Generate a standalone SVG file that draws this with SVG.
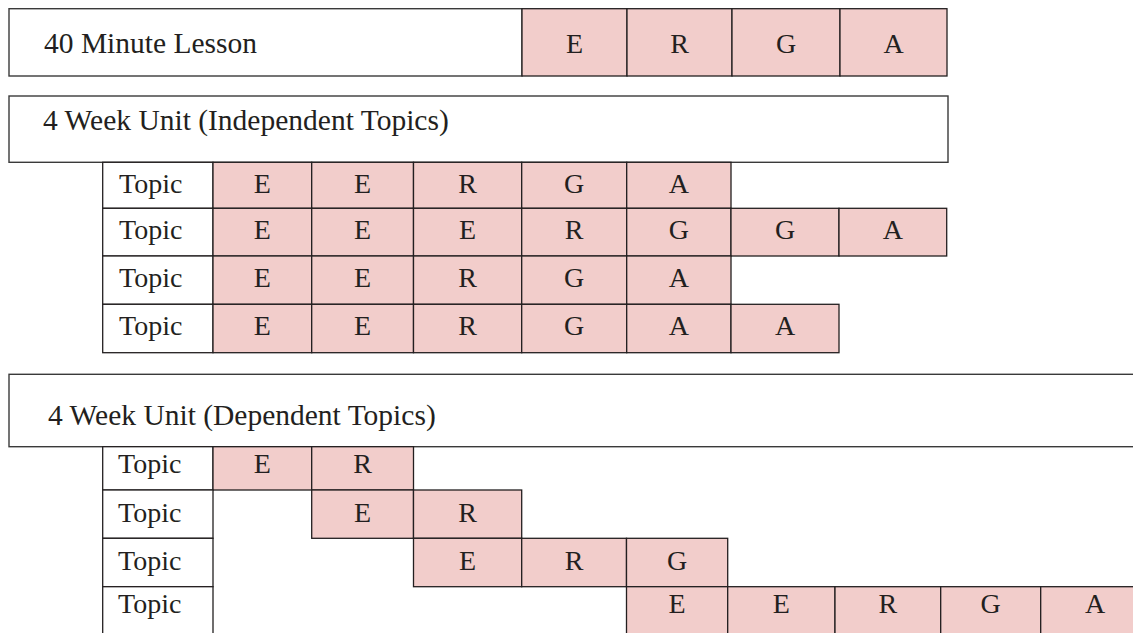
<svg xmlns="http://www.w3.org/2000/svg" width="1133" height="633" viewBox="0 0 1133 633">
<style>
.box{fill:#ffffff;stroke:#3a3a3a;stroke-width:1.4}
.t{fill:#ffffff;stroke:#231f20;stroke-width:1.3}
.p{fill:#f2cdcb;stroke:#231f20;stroke-width:1.3}
.h{font-family:"Liberation Serif","Times New Roman",serif;font-size:29.5px;fill:#231f20}
.c{font-family:"Liberation Serif","Times New Roman",serif;font-size:28px;fill:#231f20;text-anchor:middle}
.tp{font-family:"Liberation Serif","Times New Roman",serif;font-size:28px;fill:#231f20}
</style>
<rect width="1133" height="633" fill="#ffffff"/>

<g id="lesson">
<rect class="box" x="9" y="8.7" width="513" height="67.3"/>
<text class="h" x="44" y="53">40 Minute Lesson</text>
<rect class="p" x="522" y="8.7" width="105" height="67.3"/><text class="c" x="574.5" y="53">E</text>
<rect class="p" x="627" y="8.7" width="105" height="67.3"/><text class="c" x="679.5" y="53">R</text>
<rect class="p" x="732" y="8.7" width="108" height="67.3"/><text class="c" x="786" y="53">G</text>
<rect class="p" x="840" y="8.7" width="107" height="67.3"/><text class="c" x="893.5" y="53">A</text>
</g>

<g id="independent-header">
<rect class="box" x="9" y="96" width="939" height="66.3"/>
<text class="h" x="43" y="130">4 Week Unit (Independent Topics)</text>
</g>

<g id="independent-row-1">
<rect class="t" x="102.7" y="162.3" width="110.3" height="46"/><text class="tp" x="119" y="193.3">Topic</text>
<rect class="p" x="213" y="162.3" width="98.7" height="46"/><text class="c" x="262.3" y="193.3">E</text>
<rect class="p" x="311.7" y="162.3" width="101.8" height="46"/><text class="c" x="362.6" y="193.3">E</text>
<rect class="p" x="413.5" y="162.3" width="108.2" height="46"/><text class="c" x="467.6" y="193.3">R</text>
<rect class="p" x="521.7" y="162.3" width="105" height="46"/><text class="c" x="574.2" y="193.3">G</text>
<rect class="p" x="626.7" y="162.3" width="104.3" height="46"/><text class="c" x="678.8" y="193.3">A</text>
</g>

<g id="independent-row-2">
<rect class="t" x="102.7" y="208.3" width="110.3" height="47.7"/><text class="tp" x="119" y="239.3">Topic</text>
<rect class="p" x="213" y="208.3" width="98.7" height="47.7"/><text class="c" x="262.3" y="239.3">E</text>
<rect class="p" x="311.7" y="208.3" width="101.8" height="47.7"/><text class="c" x="362.6" y="239.3">E</text>
<rect class="p" x="413.5" y="208.3" width="108.2" height="47.7"/><text class="c" x="467.6" y="239.3">E</text>
<rect class="p" x="521.7" y="208.3" width="105" height="47.7"/><text class="c" x="574.2" y="239.3">R</text>
<rect class="p" x="626.7" y="208.3" width="104.3" height="47.7"/><text class="c" x="678.8" y="239.3">G</text>
<rect class="p" x="731" y="208.3" width="108" height="47.7"/><text class="c" x="785" y="239.3">G</text>
<rect class="p" x="839" y="208.3" width="107.7" height="47.7"/><text class="c" x="892.8" y="239.3">A</text>
</g>

<g id="independent-row-3">
<rect class="t" x="102.7" y="256" width="110.3" height="48.3"/><text class="tp" x="119" y="287">Topic</text>
<rect class="p" x="213" y="256" width="98.7" height="48.3"/><text class="c" x="262.3" y="287">E</text>
<rect class="p" x="311.7" y="256" width="101.8" height="48.3"/><text class="c" x="362.6" y="287">E</text>
<rect class="p" x="413.5" y="256" width="108.2" height="48.3"/><text class="c" x="467.6" y="287">R</text>
<rect class="p" x="521.7" y="256" width="105" height="48.3"/><text class="c" x="574.2" y="287">G</text>
<rect class="p" x="626.7" y="256" width="104.3" height="48.3"/><text class="c" x="678.8" y="287">A</text>
</g>

<g id="independent-row-4">
<rect class="t" x="102.7" y="304.3" width="110.3" height="48.4"/><text class="tp" x="119" y="335.3">Topic</text>
<rect class="p" x="213" y="304.3" width="98.7" height="48.4"/><text class="c" x="262.3" y="335.3">E</text>
<rect class="p" x="311.7" y="304.3" width="101.8" height="48.4"/><text class="c" x="362.6" y="335.3">E</text>
<rect class="p" x="413.5" y="304.3" width="108.2" height="48.4"/><text class="c" x="467.6" y="335.3">R</text>
<rect class="p" x="521.7" y="304.3" width="105" height="48.4"/><text class="c" x="574.2" y="335.3">G</text>
<rect class="p" x="626.7" y="304.3" width="104.3" height="48.4"/><text class="c" x="678.8" y="335.3">A</text>
<rect class="p" x="731" y="304.3" width="108" height="48.4"/><text class="c" x="785" y="335.3">A</text>
</g>

<g id="dependent-header">
<rect class="box" x="9" y="374.3" width="1140" height="72.4"/>
<text class="h" x="48" y="425">4 Week Unit (Dependent Topics)</text>
</g>

<g id="dependent-row-1">
<rect class="t" x="102.7" y="446.7" width="110.3" height="43.3"/><text class="tp" x="118" y="473.3">Topic</text>
<rect class="p" x="213" y="446.7" width="98.7" height="43.3"/><text class="c" x="262.3" y="473.3">E</text>
<rect class="p" x="311.7" y="446.7" width="101.8" height="43.3"/><text class="c" x="362.6" y="473.3">R</text>
</g>

<g id="dependent-row-2">
<rect class="t" x="102.7" y="490" width="110.3" height="48.3"/><text class="tp" x="118" y="521.7">Topic</text>
<rect class="p" x="311.7" y="490" width="101.8" height="48.3"/><text class="c" x="362.6" y="521.7">E</text>
<rect class="p" x="413.5" y="490" width="108.2" height="48.3"/><text class="c" x="467.6" y="521.7">R</text>
</g>

<g id="dependent-row-3">
<rect class="t" x="102.7" y="538.3" width="110.3" height="48.4"/><text class="tp" x="118" y="570">Topic</text>
<rect class="p" x="413.5" y="538.3" width="108.2" height="48.4"/><text class="c" x="467.6" y="570">E</text>
<rect class="p" x="521.7" y="538.3" width="104.8" height="48.4"/><text class="c" x="574.1" y="570">R</text>
<rect class="p" x="626.5" y="538.3" width="101.2" height="48.4"/><text class="c" x="677.1" y="570">G</text>
</g>

<g id="dependent-row-4">
<rect class="t" x="102.7" y="586.7" width="110.3" height="50"/><text class="tp" x="118" y="613.3">Topic</text>
<rect class="p" x="626.5" y="586.7" width="101.2" height="50"/><text class="c" x="677.1" y="613.3">E</text>
<rect class="p" x="727.7" y="586.7" width="107.3" height="50"/><text class="c" x="781.3" y="613.3">E</text>
<rect class="p" x="835" y="586.7" width="105.7" height="50"/><text class="c" x="887.8" y="613.3">R</text>
<rect class="p" x="940.7" y="586.7" width="100" height="50"/><text class="c" x="990.7" y="613.3">G</text>
<rect class="p" x="1040.7" y="586.7" width="110" height="50"/><text class="c" x="1095" y="613.3">A</text>
</g>
</svg>
